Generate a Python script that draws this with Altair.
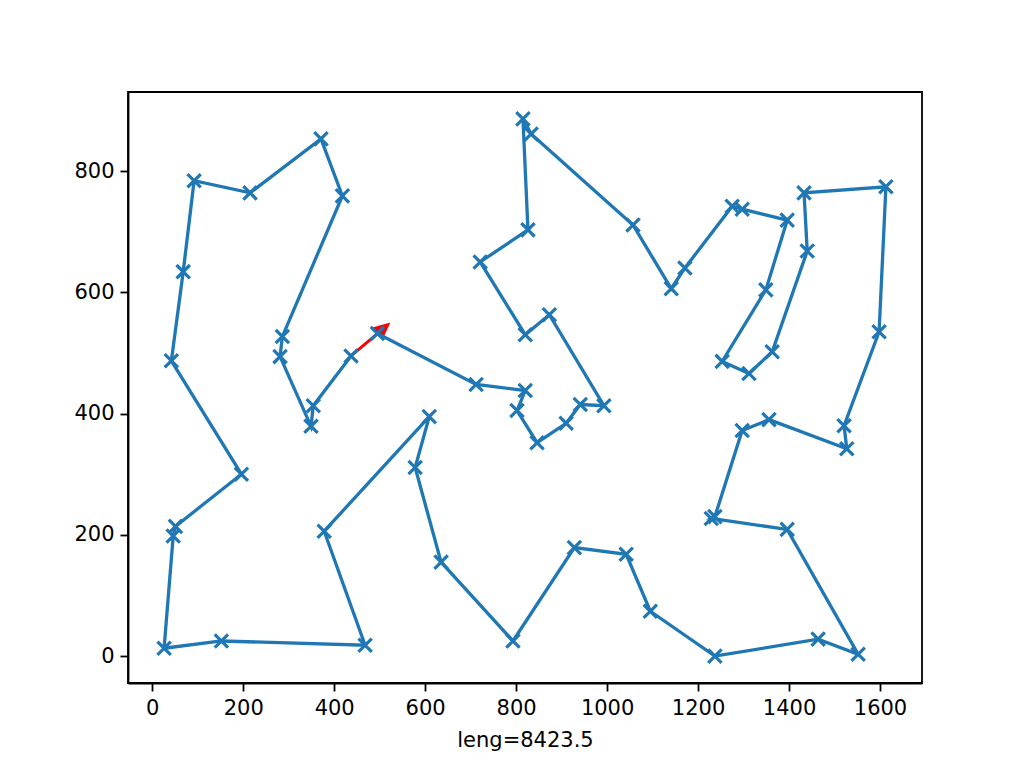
import math
import altair as alt
import pandas as pd

# Tour order (the red arrow goes from the last city back to the first one)
xs = [495, 712, 820, 802, 846, 910, 941, 993, 873, 820,
      721, 826, 815, 833, 1057, 1141, 1171, 1275, 1297, 1396,
      1349, 1253, 1312, 1363, 1440, 1433, 1613, 1598, 1521, 1527,
      1356, 1297, 1237, 1229, 1396, 1552, 1464, 1237, 1095, 1042,
      928, 793, 635, 578, 609, 378, 468, 152, 26, 46,
      51, 196, 42, 68, 92, 215, 371, 418, 286, 281,
      349, 354, 437]
ys = [532, 448, 438, 405, 352, 384, 415, 413, 563, 530,
      650, 703, 886, 861, 711, 606, 640, 742, 737, 719,
      604, 486, 466, 502, 668, 764, 774, 535, 380, 342,
      390, 372, 230, 227, 209, 3, 28, 0, 74, 168,
      179, 25, 155, 311, 395, 206, 18, 25, 13, 198,
      214, 300, 487, 634, 784, 764, 853, 759, 527, 494,
      379, 413, 495]
x_ticks = [0, 200, 400, 600, 800, 1000, 1200, 1400, 1600]
y_ticks = [0, 200, 400, 600, 800]
title_text = "leng=8423.5"

W, H = 794, 591
BLUE = "#1f77b4"
FONT = "DejaVu Sans"

# matplotlib-like 5% margins
def pad_domain(v, m=0.05):
    lo, hi = min(v), max(v)
    r = hi - lo
    return [lo - m * r, hi + m * r]

xdom = pad_domain(xs)
ydom = pad_domain(ys)

df = pd.DataFrame({"x": xs, "y": ys, "i": list(range(len(xs)))})

# arrow from last city to first city
x0, y0 = xs[-1], ys[-1]
x1, y1 = xs[0], ys[0]
arrow_df = pd.DataFrame({"x": [x0, x1], "y": [y0, y1], "i": [0, 1]})
head_df = pd.DataFrame({"x": [x1], "y": [y1]})
sx = W / (xdom[1] - xdom[0])
sy = H / (ydom[1] - ydom[0])
ang = math.degrees(math.atan2((x1 - x0) * sx, (y1 - y0) * sy)) % 360

xscale = alt.Scale(domain=xdom, nice=False, zero=False)
yscale = alt.Scale(domain=ydom, nice=False, zero=False)
xenc = alt.X("x:Q", scale=xscale,
             axis=alt.Axis(values=x_ticks, title=title_text, format="d"))
yenc = alt.Y("y:Q", scale=yscale,
             axis=alt.Axis(values=y_ticks, title=None, format="d"))

red_line = alt.Chart(arrow_df).mark_line(color="red", strokeWidth=3).encode(
    x=xenc, y=yenc, order="i:Q")
red_head = alt.Chart(head_df).mark_point(
    shape="M0,-1L0.47,0L-0.47,0Z", filled=True, color="red", fill="red",
    strokeWidth=0, size=1156, angle=ang, opacity=1).encode(x=xenc, y=yenc)

blue_line = alt.Chart(df).mark_line(color=BLUE, strokeWidth=3.3).encode(
    x=xenc, y=yenc, order="i:Q")
marks = alt.Chart(df).mark_point(
    shape="M-1,-1L1,1M-1,1L1,-1", filled=False, color=BLUE,
    strokeWidth=3.2, size=178, opacity=1).encode(x=xenc, y=yenc)

chart = alt.layer(red_line, red_head, blue_line, marks).properties(
    width=W, height=H,
    autosize=alt.AutoSizeParams(type="none"),
    padding={"left": 120, "top": 84, "right": 90, "bottom": 80},
    background="white",
).configure_view(
    stroke="black", strokeWidth=1.8
).configure_axis(
    grid=False,
    domainColor="black", domainWidth=1.8,
    tickColor="black", tickWidth=1.8, tickSize=8,
    labelColor="black", labelFont=FONT, labelFontSize=21,
    labelPadding=6,
    titleColor="black", titleFont=FONT, titleFontSize=21,
    titleFontWeight="normal", titlePadding=11,
)

chart.save("out.html", embed_options={"renderer": "svg", "actions": False})
